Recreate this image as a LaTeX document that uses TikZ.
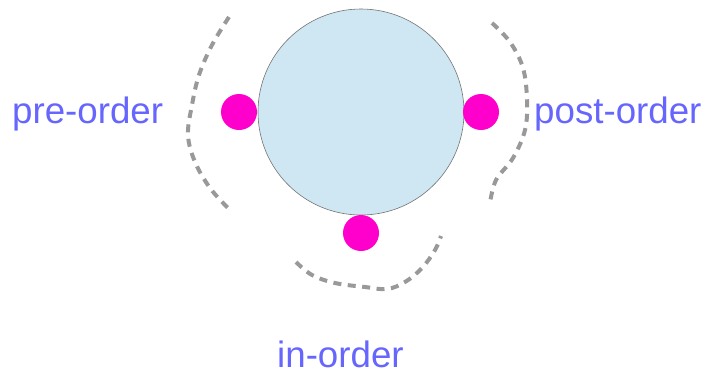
\documentclass[tikz,border=0pt]{standalone}
\usepackage{fontspec}
\setmainfont{Liberation Sans}
\definecolor{lbl}{HTML}{6666FF}
\definecolor{dotc}{HTML}{FF00CC}
\definecolor{circ}{HTML}{CFE6F3}
\definecolor{dashc}{HTML}{999999}
\begin{document}
\begin{tikzpicture}[x=1pt,y=-1pt,
  lab/.style={text=lbl,inner sep=0pt,font=\fontsize{36.7}{40}\selectfont,anchor=base west},
  pt/.style={circle,fill=dotc,inner sep=0pt,minimum size=36pt},
  trail/.style={draw=dashc,line width=4pt,dash pattern=on 8pt off 6.5pt}]
\useasboundingbox (0,0) rectangle (709,376);
\node[circle,fill=circ,draw=gray!90!black,line width=0.6pt,minimum size=206pt,inner sep=0pt] (root) at (361,112) {};
\node[pt] (pre) at (239,112) {};
\node[pt] (post) at (481,112) {};
\node[pt] (in) at (361,233) {};
\node[lab] (lpre) at (12,123) {pre-order};
\node[lab] (lpost) at (534,123) {post-order};
\node[lab] (lin) at (277,367) {in-order};
\draw[trail] plot[smooth,tension=0.6] coordinates {(229,17) (212,45) (199,75) (192,105) (188,135) (195,162) (210,188) (228,208)};
\draw[trail] plot[smooth,tension=0.6] coordinates {(492,23) (510,42) (523,68) (527,100) (525,130) (513,158) (496,180) (490,203)};
\draw[trail] plot[smooth,tension=0.6] coordinates {(296,262) (312,275) (335,283) (365,287) (387,289) (405,282) (422,268) (435,250) (441,236)};
\end{tikzpicture}
\end{document}
